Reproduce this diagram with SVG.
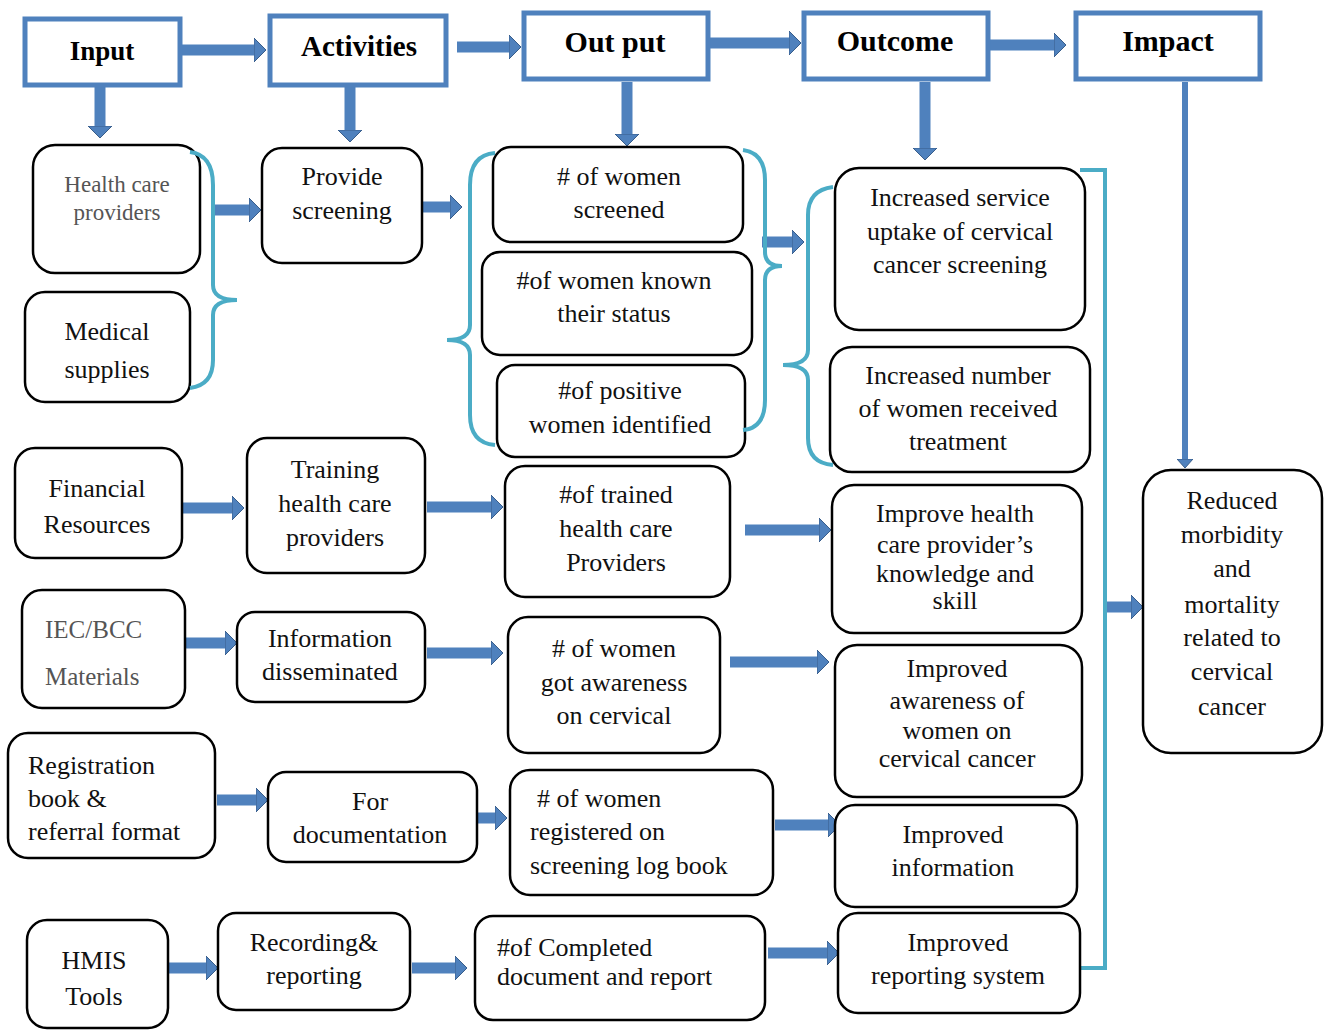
<svg xmlns="http://www.w3.org/2000/svg" width="1330" height="1030" viewBox="0 0 1330 1030">
<defs>
<style>
.hdr{fill:#fff;stroke:#4f81bd;stroke-width:5}
.hdrt{font-family:"Liberation Serif","Times New Roman",serif;font-size:30px;font-weight:bold;fill:#000;text-anchor:middle}
.nd{fill:#fff;stroke:#000;stroke-width:2.5}
.t{font-family:"Liberation Serif","Times New Roman",serif;font-size:26px;fill:#111;text-anchor:middle}
.l{text-anchor:start}
.g{fill:#555;font-size:23px}
.arr{stroke:#4f81bd;stroke-width:11;fill:none}
.thin{stroke:#4f81bd;stroke-width:6;fill:none}
.br{stroke:#4bacc6;stroke-width:4;fill:none}
</style>
<marker id="ah" viewBox="0 0 12 24" refX="0" refY="12" markerWidth="12" markerHeight="24" markerUnits="userSpaceOnUse" orient="auto">
<path d="M0,0 L12,12 L0,24 Z" fill="#4f81bd" stroke="#385d8a" stroke-width="1"/>
</marker>
<marker id="ahs" viewBox="0 0 9 16" refX="0" refY="8" markerWidth="9" markerHeight="16" markerUnits="userSpaceOnUse" orient="auto">
<path d="M0,0 L9,8 L0,16 Z" fill="#4f81bd" stroke="#385d8a" stroke-width="1"/>
</marker>
</defs>
<rect width="1330" height="1030" fill="#fff"/>

<g id="connectors">
<line class="arr" x1="182" y1="50" x2="254" y2="50" marker-end="url(#ah)"/>
<line class="arr" x1="457" y1="47" x2="509" y2="47" marker-end="url(#ah)"/>
<line class="arr" x1="710" y1="43" x2="789" y2="43" marker-end="url(#ah)"/>
<line class="arr" x1="990" y1="45" x2="1054" y2="45" marker-end="url(#ah)"/>
<line class="arr" x1="100" y1="87" x2="100" y2="126" marker-end="url(#ah)"/>
<line class="arr" x1="350" y1="87" x2="350" y2="130" marker-end="url(#ah)"/>
<line class="arr" x1="627" y1="82" x2="627" y2="134" marker-end="url(#ah)"/>
<line class="arr" x1="925" y1="82" x2="925" y2="148" marker-end="url(#ah)"/>
<line class="thin" x1="1185" y1="82" x2="1185" y2="459" marker-end="url(#ahs)"/>
<line class="arr" x1="215" y1="210" x2="249" y2="210" marker-end="url(#ah)"/>
<line class="arr" x1="420" y1="207" x2="450" y2="207" marker-end="url(#ah)"/>
<line class="arr" x1="762" y1="242" x2="792" y2="242" marker-end="url(#ah)"/>
<line class="arr" x1="183" y1="508" x2="232" y2="508" marker-end="url(#ah)"/>
<line class="arr" x1="427" y1="507" x2="491" y2="507" marker-end="url(#ah)"/>
<line class="arr" x1="745" y1="530" x2="819" y2="530" marker-end="url(#ah)"/>
<line class="arr" x1="178" y1="643" x2="225" y2="643" marker-end="url(#ah)"/>
<line class="arr" x1="427" y1="653" x2="491" y2="653" marker-end="url(#ah)"/>
<line class="arr" x1="730" y1="662" x2="817" y2="662" marker-end="url(#ah)"/>
<line class="arr" x1="217" y1="800" x2="256" y2="800" marker-end="url(#ah)"/>
<line class="arr" x1="463" y1="818" x2="495" y2="818" marker-end="url(#ah)"/>
<line class="arr" x1="775" y1="825" x2="828" y2="825" marker-end="url(#ah)"/>
<line class="arr" x1="165" y1="968" x2="206" y2="968" marker-end="url(#ah)"/>
<line class="arr" x1="412" y1="968" x2="455" y2="968" marker-end="url(#ah)"/>
<line class="arr" x1="768" y1="953" x2="827" y2="953" marker-end="url(#ah)"/>
<line class="arr" x1="1105" y1="607" x2="1131" y2="607" marker-end="url(#ah)"/>
<path class="br" d="M1080,170 L1105,170 L1105,968 L1077,968"/>
</g>

<g id="h-input"><rect class="hdr" x="25" y="19" width="155" height="66"/><text class="hdrt" x="102" y="60" style="font-size:27px">Input</text></g>
<g id="h-activities"><rect class="hdr" x="270" y="16" width="176" height="69"/><text class="hdrt" x="359" y="56" style="font-size:29px">Activities</text></g>
<g id="h-output"><rect class="hdr" x="524" y="13" width="184" height="66"/><text class="hdrt" x="615" y="52">Out put</text></g>
<g id="h-outcome"><rect class="hdr" x="804" y="13" width="184" height="66"/><text class="hdrt" x="895" y="51">Outcome</text></g>
<g id="h-impact"><rect class="hdr" x="1076" y="13" width="184" height="66"/><text class="hdrt" x="1168" y="51">Impact</text></g>

<g id="n-hcp"><rect class="nd" x="33" y="145" width="167" height="128" rx="22"/><text class="t g" x="117" y="192">Health care</text><text class="t g" x="117" y="220">providers</text></g>
<g id="n-medical"><rect class="nd" x="25" y="292" width="165" height="110" rx="20"/><text class="t" x="107" y="340">Medical</text><text class="t" x="107" y="378">supplies</text></g>
<g id="n-financial"><rect class="nd" x="15" y="448" width="167" height="110" rx="20"/><text class="t" x="97" y="497">Financial</text><text class="t" x="97" y="533">Resources</text></g>
<g id="n-iec"><rect class="nd" x="22" y="590" width="163" height="118" rx="20"/><text class="t g l" x="45" y="638" style="font-size:25px">IEC/BCC</text><text class="t g l" x="45" y="685" style="font-size:25px">Materials</text></g>
<g id="n-registration"><rect class="nd" x="8" y="733" width="207" height="125" rx="20"/><text class="t l" x="28" y="774">Registration</text><text class="t l" x="28" y="807">book &amp;</text><text class="t l" x="28" y="840">referral format</text></g>
<g id="n-hmis"><rect class="nd" x="27" y="920" width="141" height="108" rx="20"/><text class="t" x="94" y="969">HMIS</text><text class="t" x="94" y="1005">Tools</text></g>

<g id="n-provide"><rect class="nd" x="262" y="148" width="160" height="115" rx="20"/><text class="t" x="342" y="185">Provide</text><text class="t" x="342" y="219">screening</text></g>
<g id="n-training"><rect class="nd" x="247" y="438" width="178" height="135" rx="20"/><text class="t" x="335" y="478">Training</text><text class="t" x="335" y="512">health care</text><text class="t" x="335" y="546">providers</text></g>
<g id="n-information"><rect class="nd" x="237" y="612" width="188" height="90" rx="18"/><text class="t" x="330" y="647">Information</text><text class="t" x="330" y="680">disseminated</text></g>
<g id="n-fordoc"><rect class="nd" x="268" y="772" width="209" height="90" rx="18"/><text class="t" x="370" y="810">For</text><text class="t" x="370" y="843">documentation</text></g>
<g id="n-recording"><rect class="nd" x="218" y="913" width="192" height="97" rx="18"/><text class="t" x="314" y="951">Recording&amp;</text><text class="t" x="314" y="984">reporting</text></g>

<g id="n-screened"><rect class="nd" x="493" y="147" width="250" height="95" rx="18"/><text class="t" x="619" y="185"># of women</text><text class="t" x="619" y="218">screened</text></g>
<g id="n-status"><rect class="nd" x="482" y="252" width="270" height="103" rx="18"/><text class="t" x="614" y="289">#of women known</text><text class="t" x="614" y="322">their status</text></g>
<g id="n-positive"><rect class="nd" x="497" y="365" width="248" height="92" rx="18"/><text class="t" x="620" y="399">#of positive</text><text class="t" x="620" y="433">women identified</text></g>
<g id="n-trained"><rect class="nd" x="505" y="466" width="225" height="131" rx="20"/><text class="t" x="616" y="503">#of trained</text><text class="t" x="616" y="537">health care</text><text class="t" x="616" y="571">Providers</text></g>
<g id="n-awareness"><rect class="nd" x="508" y="617" width="212" height="136" rx="20"/><text class="t" x="614" y="657"># of women</text><text class="t" x="614" y="691">got awareness</text><text class="t" x="614" y="724">on cervical</text></g>
<g id="n-registered"><rect class="nd" x="510" y="770" width="263" height="125" rx="20"/><text class="t l" x="537" y="807"># of women</text><text class="t l" x="530" y="840">registered on</text><text class="t l" x="530" y="874">screening log book</text></g>
<g id="n-completed"><rect class="nd" x="475" y="916" width="290" height="104" rx="18"/><text class="t l" x="497" y="956">#of Completed</text><text class="t l" x="497" y="985">document and report</text></g>

<g id="n-uptake"><rect class="nd" x="835" y="168" width="250" height="162" rx="24"/><text class="t" x="960" y="206">Increased service</text><text class="t" x="960" y="240">uptake of cervical</text><text class="t" x="960" y="273">cancer screening</text></g>
<g id="n-treatment"><rect class="nd" x="830" y="347" width="260" height="125" rx="22"/><text class="t" x="958" y="384">Increased number</text><text class="t" x="958" y="417">of women received</text><text class="t" x="958" y="450">treatment</text></g>
<g id="n-knowledge"><rect class="nd" x="832" y="485" width="250" height="148" rx="22"/><text class="t" x="955" y="522">Improve health</text><text class="t" x="955" y="553">care provider’s</text><text class="t" x="955" y="582">knowledge and</text><text class="t" x="955" y="609">skill</text></g>
<g id="n-improved-awareness"><rect class="nd" x="835" y="645" width="247" height="152" rx="22"/><text class="t" x="957" y="677">Improved</text><text class="t" x="957" y="709">awareness of</text><text class="t" x="957" y="739">women on</text><text class="t" x="957" y="767">cervical cancer</text></g>
<g id="n-improved-info"><rect class="nd" x="835" y="805" width="242" height="102" rx="20"/><text class="t" x="953" y="843">Improved</text><text class="t" x="953" y="876">information</text></g>
<g id="n-reporting"><rect class="nd" x="838" y="913" width="242" height="100" rx="20"/><text class="t" x="958" y="951">Improved</text><text class="t" x="958" y="984">reporting system</text></g>

<g id="n-impact"><rect class="nd" x="1143" y="470" width="179" height="283" rx="28"/><text class="t" x="1232" y="509">Reduced</text><text class="t" x="1232" y="543">morbidity</text><text class="t" x="1232" y="577">and</text><text class="t" x="1232" y="613">mortality</text><text class="t" x="1232" y="646">related to</text><text class="t" x="1232" y="680">cervical</text><text class="t" x="1232" y="715">cancer</text></g>

<g id="braces">
<path class="br" d="M190,152 Q213,155 213,185 L213,285 Q213,300 237,300 Q213,300 213,315 L213,360 Q213,385 190,388"/>
<path class="br" d="M495,153 Q470,155 470,185 L470,325 Q470,340 447,340 Q470,340 470,355 L470,415 Q470,443 495,445"/>
<path class="br" d="M743,150 Q765,153 765,180 L765,252 Q765,266 782,266 Q765,266 765,280 L765,400 Q765,428 743,430"/>
<path class="br" d="M833,187 Q808,190 808,215 L808,350 Q808,365 783,365 Q808,365 808,380 L808,438 Q808,463 833,465"/>
</g>
</svg>
